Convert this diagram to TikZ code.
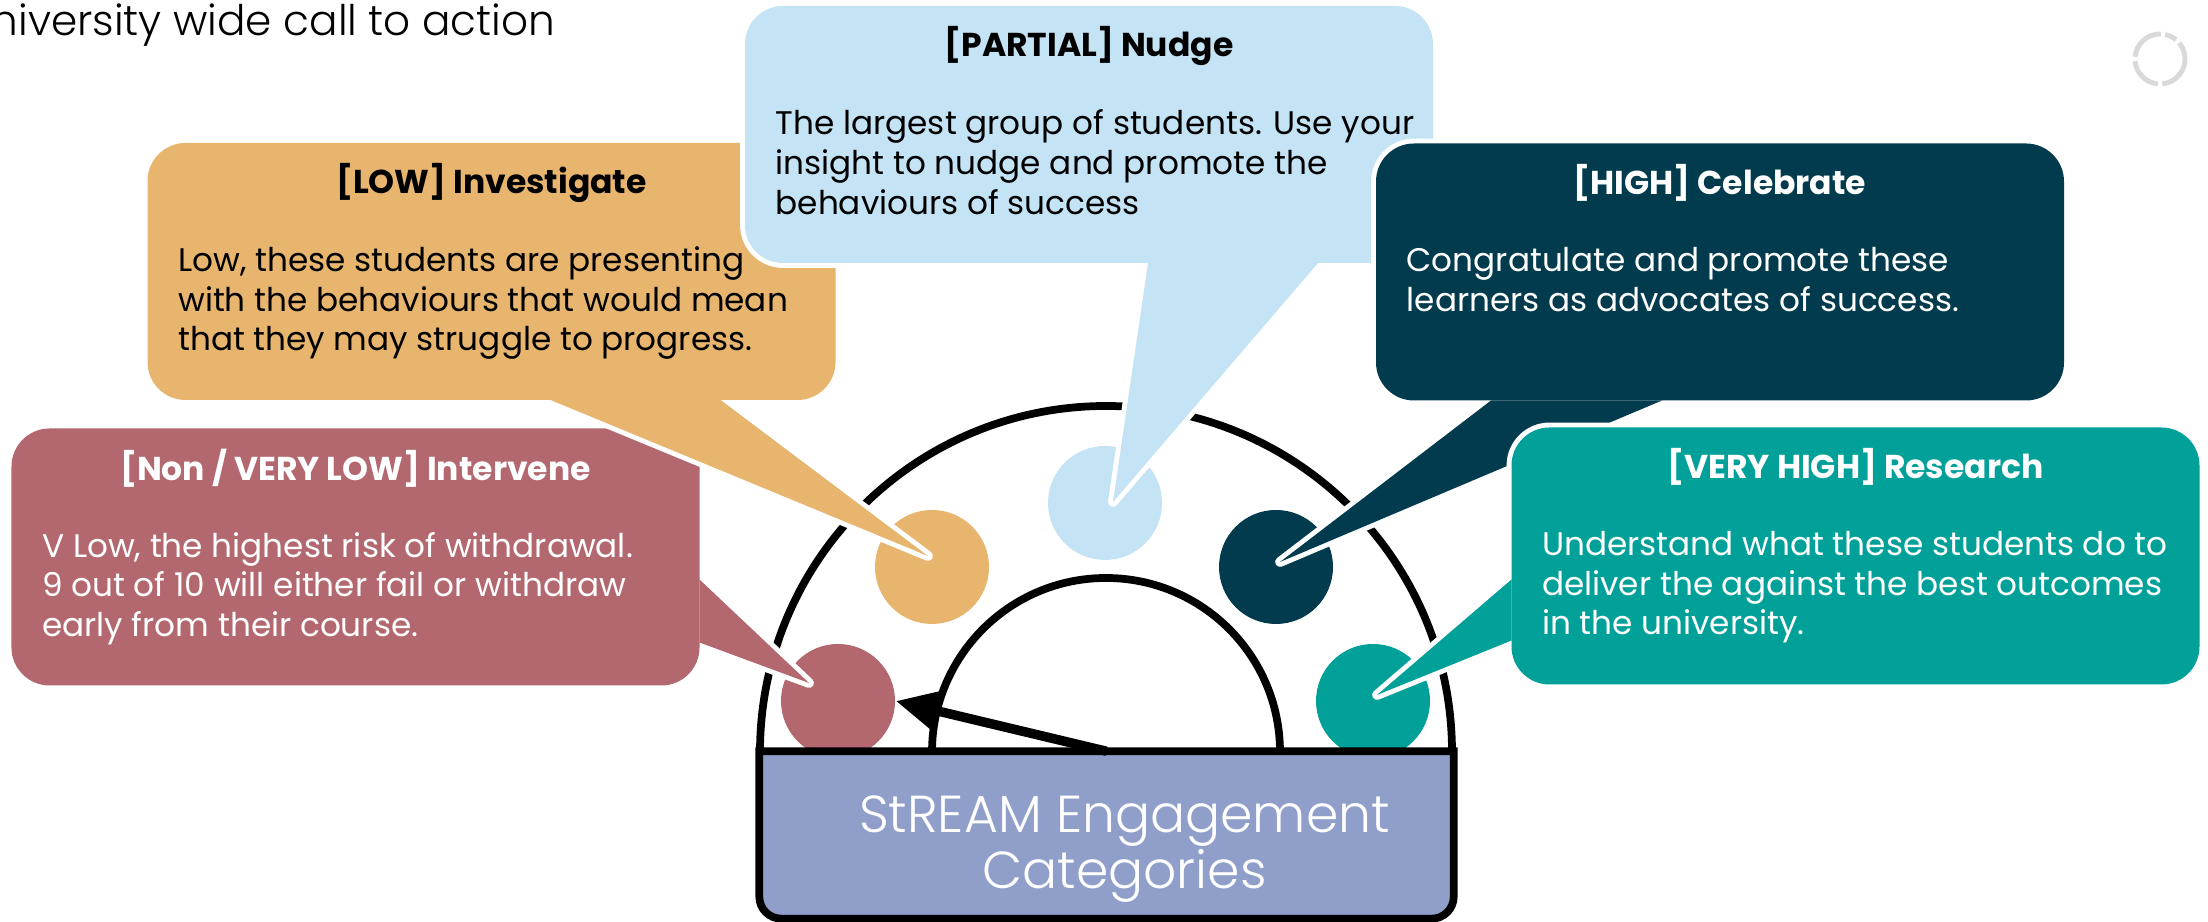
\documentclass[tikz,border=0pt]{standalone}
\usepackage{fontspec}
\setmainfont{Poppins}[BoldFont=* Bold]
\newfontfamily\thinfont{Poppins}[UprightFont=* Light]
\usetikzlibrary{arrows.meta,positioning}

\definecolor{vlowcol}{HTML}{B3686F}
\definecolor{lowcol}{HTML}{E8B56F}
\definecolor{partcol}{HTML}{C4E3F4}
\definecolor{highcol}{HTML}{023B4D}
\definecolor{vhighcol}{HTML}{01A099}
\definecolor{catcol}{HTML}{909FCA}
\definecolor{spincol}{HTML}{D9D9D9}

% tail of a speech bubble: #1 bubble, #2 colour, #3 base, #4 tip, #5 base
\newcommand{\bubbletail}[5]{%
  \path[fill=#2, rim] #3 -- #4 -- #5 -- cycle;
  \fill[#2, rounded corners=0.38cm] (#1.south west) rectangle (#1.north east);
  \fill[#2] #3 -- #4 -- #5 -- cycle;
}

\begin{document}
\begin{tikzpicture}[
    callout/.style={rectangle, rounded corners=0.38cm, minimum width=6.88cm,
      minimum height=2.57cm, inner sep=0pt, outer sep=0pt},
    rim/.style={draw=white, line width=2.8pt, line join=round},
    dot/.style={circle, minimum size=1.14cm, inner sep=0pt},
    head/.style={font=\fontsize{9.4}{11}\selectfont\bfseries, inner sep=0pt},
    body/.style={font=\fontsize{9.3}{11.3}\selectfont, align=left, inner sep=0pt},
    arch/.style={line width=2.2pt},
  ]
  \useasboundingbox (0,0) rectangle (22.08,9.22);

  \node[font=\thinfont\fontsize{12}{14}\selectfont, anchor=east, inner sep=0pt]
    (calltitle) at (5.56,8.97) {University wide call to action};

  % loading ring, top right
  \coordinate (spin) at (21.60,8.63);
  \foreach \a/\b in {50/78, 88/175, 185/265, 275/400}
    \draw[spincol, line width=1.4pt] ([shift={(\a:0.25)}]spin) arc[start angle=\a, end angle=\b, radius=0.25];

  % the gauge
  \coordinate (hub) at (11.06,1.70);
  \draw[arch] ([xshift=-3.46cm]hub) arc[start angle=180, end angle=0, radius=3.46];
  \draw[arch] ([xshift=-1.74cm]hub) arc[start angle=180, end angle=0, radius=1.74];

  \node[dot, fill=vlowcol] (vlowdot) at (8.38,2.21) {};
  \node[dot, fill=lowcol] (lowdot) at (9.32,3.55) {};
  \node[dot, fill=partcol] (partdot) at (11.05,4.19) {};
  \node[dot, fill=highcol] (highdot) at (12.76,3.55) {};
  \node[dot, fill=vhighcol] (vhighdot) at (13.73,2.21) {};

  \node[minimum width=6.93cm, minimum height=1.66cm, inner sep=0pt] (cats) at (11.065,0.87) {};
  \draw[arch, fill=catcol] (cats.north west) -- ([yshift=0.22cm]cats.south west)
    arc[start angle=180, end angle=270, radius=0.22cm] -- ([xshift=-0.22cm]cats.south east)
    arc[start angle=270, end angle=360, radius=0.22cm] -- (cats.north east) -- cycle;
  \node[font=\thinfont\fontsize{14.8}{15.8}\selectfont, text=white, align=center]
    (catstext) at ([xshift=0.18cm, yshift=-0.14cm]cats.center) {StREAM Engagement\\Categories};

  \draw[line width=2.7pt, -{Triangle[length=0.42cm, width=0.38cm]}] (cats.north) -- (vlowdot.east);

  % bubbles, back to front
  \node[callout, fill=vlowcol, rim] (vlow) at (3.555,3.65) {};
  \bubbletail{vlow}{vlowcol}{([yshift=1.06cm]vlow.south east)}{([shift={(-0.29,0.18)}]vlowdot.center)}{([yshift=0.43cm]vlow.south east)}
  \node[head, text=white, below=0.20cm of vlow.north] (vlowhead) {[Non / VERY LOW] Intervene};
  \node[body, text=white, below right=1.03cm and 0.30cm of vlow.north west] (vlowtext)
    {V Low, the highest risk of withdrawal.\\9 out of 10 will either fail or withdraw\\early from their course.};

  \node[callout, fill=lowcol, rim] (low) at (4.915,6.505) {};
  \bubbletail{low}{lowcol}{([xshift=-2.85cm]low.south east)}{([shift={(-0.04,0.11)}]lowdot.center)}{([xshift=-1.15cm]low.south east)}
  \node[head, below=0.20cm of low.north] (lowhead) {[LOW] Investigate};
  \node[body, below right=1.03cm and 0.30cm of low.north west] (lowtext)
    {Low, these students are presenting\\with the behaviours that would mean\\that they may struggle to progress.};

  \node[callout, fill=partcol, rim] (part) at (10.89,7.875) {};
  \bubbletail{part}{partcol}{([xshift=0.59cm]part.south)}{([shift={(0.08,0.01)}]partdot.center)}{([xshift=2.29cm]part.south)}
  \node[head, below=0.20cm of part.north] (parthead) {[PARTIAL] Nudge};
  \node[body, below right=1.03cm and 0.30cm of part.north west] (parttext)
    {The largest group of students. Use your\\insight to nudge and promote the\\behaviours of success};

  \node[callout, fill=highcol, rim] (high) at (17.20,6.50) {};
  \bubbletail{high}{highcol}{([xshift=1.15cm]high.south west)}{([shift={(0.04,0.05)}]highdot.center)}{([xshift=2.86cm]high.south west)}
  \node[head, text=white, below=0.20cm of high.north] (highhead) {[HIGH] Celebrate};
  \node[body, text=white, below right=1.03cm and 0.30cm of high.north west] (hightext)
    {Congratulate and promote these\\learners as advocates of success.};

  \node[callout, fill=vhighcol, rim] (vhigh) at (18.555,3.66) {};
  \bubbletail{vhigh}{vhighcol}{([yshift=1.05cm]vhigh.south west)}{([shift={(0.04,0.06)}]vhighdot.center)}{([yshift=0.44cm]vhigh.south west)}
  \node[head, text=white, below=0.20cm of vhigh.north] (vhighhead) {[VERY HIGH] Research};
  \node[body, text=white, below right=1.03cm and 0.30cm of vhigh.north west] (vhightext)
    {Understand what these students do to\\deliver the against the best outcomes\\in the university.};
\end{tikzpicture}
\end{document}
